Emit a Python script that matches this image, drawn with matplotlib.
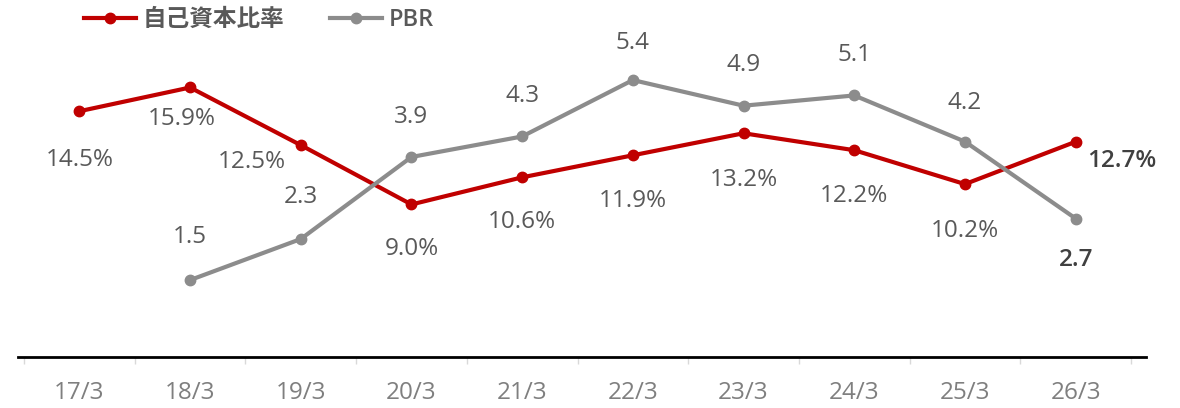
from matplotlib import pyplot as plt
import numpy as np

plt.rcParams['font.family'] = ['Open Sans', 'Noto Sans CJK JP', 'DejaVu Sans']

# data
years = ["17/3", "18/3", "19/3", "20/3", "21/3", "22/3", "23/3", "24/3", "25/3", "26/3"]
equity_ratio = [14.5, 15.9, 12.5, 9.0, 10.6, 11.9, 13.2, 12.2, 10.2, 12.7]
pbr = [np.nan, 1.5, 2.3, 3.9, 4.3, 5.4, 4.9, 5.1, 4.2, 2.7]

red = "#c00000"
grey = "#8c8c8c"
txt = "#595959"

fig = plt.figure(figsize=(11.8, 4.08), dpi=100)
ax = fig.add_axes([24/1180, 51/408, 1107/1180, 339/408])
ax2 = ax.twinx()

x = np.arange(len(years))
l1, = ax.plot(x, equity_ratio, color=red, lw=3, marker="o", ms=7.5, label="自己資本比率")
l2, = ax2.plot(x, pbr, color=grey, lw=3, marker="o", ms=7.5, label="PBR")

ax.set_ylim(0, 20)
ax2.set_ylim(0, 6.61)
ax.set_xlim(-0.5, 9.5)

for a in (ax, ax2):
    for s in a.spines.values():
        s.set_visible(False)
    a.set_yticks([])

ax.set_xticks(x)
ax.set_xticklabels(years, fontsize=17.5, color="#7f7f7f")
ax.tick_params(axis="x", which="major", length=0, pad=17)
ax.set_xticks(np.arange(-0.5, 10, 1), minor=True)
ax.tick_params(axis="x", which="minor", length=5, color="#d9d9d9", width=1)

# base line, a bit wider than the plot
ax.plot([-0.005, 1.014], [0, 0], transform=ax.transAxes, color="black", lw=2, clip_on=False)

# value labels (offsets in points)
red_off = [(0, -35), (-6, -23), (-35, -12), (0, -32), (0, -32), (0, -33), (0, -34), (0, -33), (0, -34), (33, -14)]
for i, v in enumerate(equity_ratio):
    bold = i == len(equity_ratio) - 1
    ax.annotate(f"{v:.1f}%", (x[i], v), xytext=red_off[i], textcoords="offset points",
                ha="center", va="center", fontsize=17.5,
                color="#404040" if bold else txt, fontweight="semibold" if bold else "normal")

grey_off = [None, (0, 31), (0, 30), (0, 29), (0, 29), (0, 27), (0, 29), (0, 29), (0, 28), (0, -30)]
for i, v in enumerate(pbr):
    if np.isnan(v):
        continue
    bold = i == len(pbr) - 1
    ax2.annotate(f"{v:.1f}", (x[i], v), xytext=grey_off[i], textcoords="offset points",
                 ha="center", va="center", fontsize=17.5,
                 color="#404040" if bold else txt, fontweight="semibold" if bold else "normal")

leg = fig.legend(handles=[l1, l2], loc="center", bbox_to_anchor=(259/1180, 1 - 20/408),
                 ncol=2, frameon=False, fontsize=17, handlelength=2.2, columnspacing=1.9,
                 handletextpad=0.3)
for t in leg.get_texts():
    t.set_color(txt)
    t.set_fontweight("semibold")

fig.savefig("out.png", dpi=100)
